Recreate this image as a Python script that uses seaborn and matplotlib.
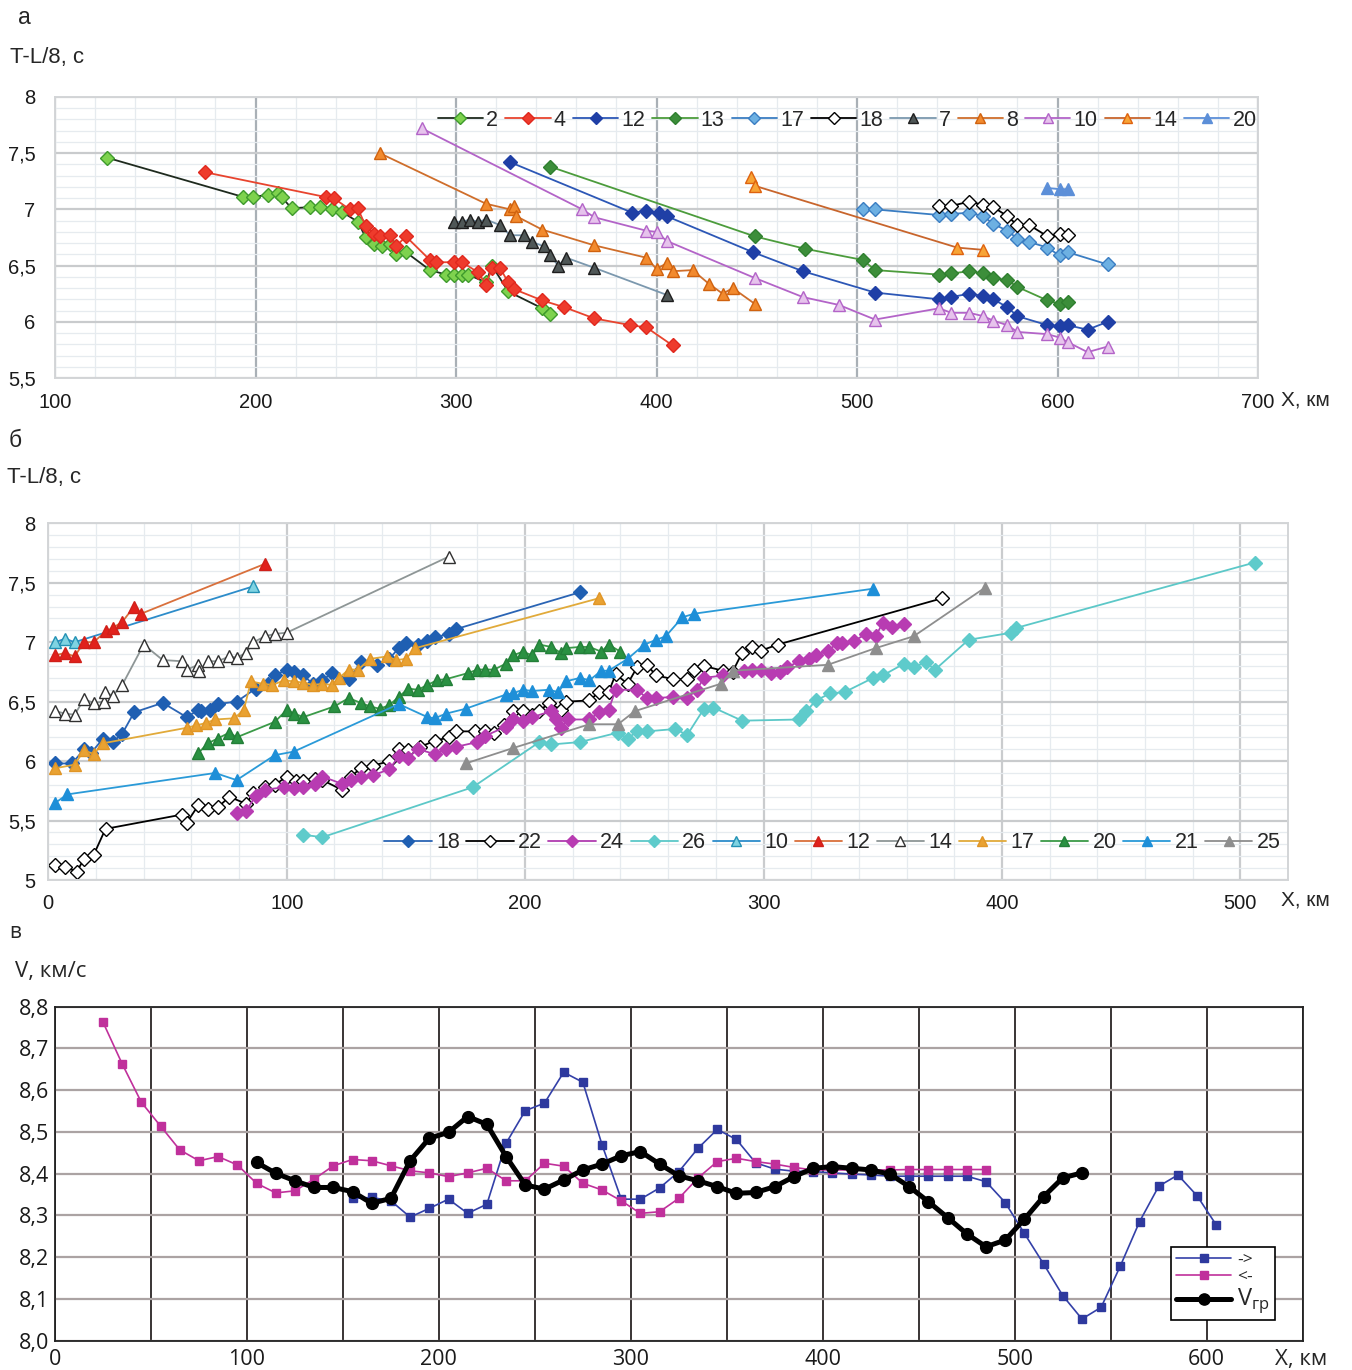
import matplotlib
matplotlib.use("Agg")
import matplotlib.pyplot as plt
import seaborn as sns

# ---------------- panel а: T-L/8 versus X, profiles read from one side ----------------
a2_x = [126, 194, 199, 206, 211, 213, 218, 227, 232, 238, 243, 251, 255, 259, 263, 267, 270, 275,
        287, 295, 299, 303, 306, 315, 318, 326, 343, 347]
a2_y = [7.46, 7.11, 7.11, 7.13, 7.15, 7.11, 7.01, 7.02, 7.02, 7.00, 6.98, 6.89, 6.75, 6.69, 6.67, 6.69,
        6.60, 6.62, 6.46, 6.42, 6.42, 6.42, 6.42, 6.35, 6.50, 6.27, 6.12, 6.07]
a4_x = [175, 235, 239, 247, 251, 255, 259, 262, 267, 270, 275, 287, 290, 299, 303, 311, 315, 318,
        322, 326, 329, 343, 354, 369, 387, 395, 408]
a4_y = [7.33, 7.11, 7.10, 7.00, 7.01, 6.85, 6.78, 6.76, 6.77, 6.67, 6.76, 6.55, 6.53, 6.53, 6.53,
        6.44, 6.33, 6.48, 6.48, 6.35, 6.29, 6.19, 6.13, 6.03, 5.97, 5.95, 5.79]
a12_x = [327, 388, 395, 401, 405, 448, 473, 509, 541, 547, 556, 563, 568, 575, 580, 595, 601, 605, 615, 625]
a12_y = [7.42, 6.97, 6.99, 6.97, 6.94, 6.62, 6.45, 6.26, 6.20, 6.22, 6.25, 6.23, 6.20, 6.13, 6.05,
         5.97, 5.96, 5.97, 5.93, 6.00]
a13_x = [347, 449, 474, 503, 509, 541, 547, 556, 563, 568, 575, 580, 595, 601, 605]
a13_y = [7.38, 6.76, 6.65, 6.55, 6.46, 6.42, 6.43, 6.45, 6.43, 6.39, 6.37, 6.31, 6.19, 6.16, 6.18]
a17_x = [503, 509, 541, 547, 556, 563, 568, 575, 580, 586, 595, 601, 605, 625]
a17_y = [7.00, 7.00, 6.95, 6.96, 6.97, 6.94, 6.87, 6.81, 6.74, 6.71, 6.66, 6.59, 6.62, 6.51]
a18_x = [541, 547, 556, 563, 568, 575, 580, 586, 595, 601, 605]
a18_y = [7.03, 7.03, 7.07, 7.04, 7.02, 6.94, 6.86, 6.86, 6.76, 6.78, 6.77]
a7_x = [299, 303, 307, 311, 315, 322, 327, 334, 338, 344, 347, 351, 355, 369, 405]
a7_y = [6.89, 6.89, 6.91, 6.89, 6.91, 6.86, 6.77, 6.77, 6.71, 6.67, 6.59, 6.50, 6.57, 6.48, 6.24]
a8_x = [262, 315, 327, 329, 330, 343, 369, 395, 400, 405, 408, 418, 426, 433, 438, 449]
a8_y = [7.50, 7.05, 7.00, 7.03, 6.94, 6.82, 6.68, 6.57, 6.47, 6.52, 6.45, 6.46, 6.34, 6.25, 6.30, 6.16]
a10_x = [283, 363, 369, 395, 400, 405, 449, 473, 491, 509, 541, 547, 556, 563, 568, 575, 580, 595,
         601, 605, 615, 625]
a10_y = [7.72, 7.00, 6.93, 6.81, 6.80, 6.72, 6.39, 6.22, 6.15, 6.02, 6.12, 6.08, 6.08, 6.05, 6.01,
         5.97, 5.91, 5.89, 5.86, 5.82, 5.73, 5.78]
a14_x = [447, 449, 550, 563]
a14_y = [7.29, 7.21, 6.66, 6.64]
a20_x = [595, 601, 605]
a20_y = [7.19, 7.18, 7.18]

# ---------------- panel б: T-L/8 versus X, profiles read from the other side ----------------
b18_x = [3, 10, 15, 18, 23, 27, 31, 36, 48, 58, 63, 64, 68, 71, 79, 87, 92, 95, 100, 103, 107, 111,
         115, 119, 126, 131, 138, 143, 147, 150, 155, 159, 162, 168, 171, 223]
b18_y = [5.98, 5.98, 6.10, 6.07, 6.19, 6.16, 6.23, 6.41, 6.49, 6.37, 6.43, 6.42, 6.43, 6.48, 6.50,
         6.61, 6.65, 6.72, 6.77, 6.75, 6.72, 6.65, 6.68, 6.74, 6.69, 6.83, 6.81, 6.86, 6.95, 6.99,
         6.98, 7.01, 7.04, 7.07, 7.11, 7.42]
b22_x = [3, 7, 12, 15, 19, 24, 56, 58, 63, 67, 71, 76, 83, 86, 91, 95, 100, 104, 107, 112, 115, 123,
         127, 131, 136, 143, 147, 151, 156, 162, 168, 171, 179, 183, 187, 191, 195, 199, 203, 206,
         210, 215, 217, 227, 231, 235, 238, 243, 247, 251, 255, 262, 268, 271, 275, 283, 287, 291,
         295, 299, 306, 375]
b22_y = [5.13, 5.11, 5.07, 5.18, 5.21, 5.43, 5.55, 5.48, 5.63, 5.60, 5.61, 5.70, 5.64, 5.73, 5.78,
         5.80, 5.87, 5.83, 5.83, 5.85, 5.84, 5.76, 5.87, 5.94, 5.96, 6.00, 6.10, 6.09, 6.12, 6.17,
         6.20, 6.25, 6.25, 6.25, 6.24, 6.30, 6.42, 6.42, 6.39, 6.42, 6.49, 6.43, 6.50, 6.51, 6.58,
         6.58, 6.73, 6.65, 6.79, 6.81, 6.72, 6.69, 6.69, 6.77, 6.80, 6.76, 6.75, 6.91, 6.96, 6.93,
         6.98, 7.37]
b24_x = [79, 83, 87, 91, 99, 103, 107, 112, 115, 123, 127, 131, 136, 143, 147, 151, 155, 162, 167,
         171, 180, 183, 192, 195, 199, 203, 211, 213, 215, 218, 227, 231, 235, 238, 247, 251, 255,
         262, 268, 272, 275, 283, 292, 295, 299, 303, 307, 310, 315, 319, 322, 327, 331, 333, 338,
         343, 347, 350, 354, 359]
b24_y = [5.56, 5.58, 5.71, 5.76, 5.78, 5.77, 5.78, 5.81, 5.87, 5.81, 5.84, 5.87, 5.88, 5.93, 6.04,
         6.03, 6.10, 6.06, 6.10, 6.12, 6.16, 6.21, 6.29, 6.35, 6.34, 6.37, 6.42, 6.35, 6.28, 6.35,
         6.35, 6.41, 6.43, 6.60, 6.60, 6.53, 6.53, 6.54, 6.53, 6.60, 6.70, 6.72, 6.76, 6.77, 6.77,
         6.74, 6.75, 6.79, 6.84, 6.86, 6.89, 6.93, 6.99, 6.99, 7.01, 7.07, 7.05, 7.16, 7.13, 7.15]
b26_x = [107, 115, 178, 206, 211, 223, 239, 243, 247, 251, 263, 268, 275, 279, 291, 315, 318, 322,
         328, 334, 346, 350, 359, 363, 368, 372, 386, 404, 406, 506]
b26_y = [5.38, 5.36, 5.78, 6.16, 6.14, 6.16, 6.24, 6.19, 6.25, 6.25, 6.27, 6.22, 6.44, 6.45, 6.34,
         6.35, 6.42, 6.51, 6.57, 6.58, 6.70, 6.72, 6.82, 6.79, 6.83, 6.77, 7.02, 7.08, 7.12, 7.67]
b10_x = [3, 7, 11, 86]
b10_y = [7.00, 7.03, 7.00, 7.47]
b12_x = [3, 7, 11, 15, 19, 24, 27, 31, 36, 39, 91]
b12_y = [6.89, 6.91, 6.88, 7.00, 7.00, 7.09, 7.12, 7.17, 7.30, 7.24, 7.66]
b14_x = [3, 7, 11, 15, 19, 23.5, 23.8, 27, 31, 40, 48, 56, 58, 63, 63.4, 67, 71, 76, 79, 83, 86, 91,
         95, 100, 168]
b14_y = [6.42, 6.40, 6.39, 6.52, 6.49, 6.50, 6.58, 6.55, 6.64, 6.98, 6.85, 6.84, 6.77, 6.81, 6.76,
         6.84, 6.84, 6.88, 6.87, 6.91, 7.00, 7.05, 7.07, 7.08, 7.72]
b17_x = [3, 11, 15, 19, 23, 58, 62, 66, 70, 78, 82, 85, 90, 94, 99, 103, 107, 111, 115, 119, 122,
         126, 130, 135, 142, 146, 150, 154, 231]
b17_y = [5.94, 5.97, 6.09, 6.06, 6.15, 6.28, 6.30, 6.32, 6.35, 6.36, 6.43, 6.67, 6.65, 6.64, 6.68,
         6.67, 6.66, 6.64, 6.65, 6.64, 6.70, 6.77, 6.77, 6.86, 6.88, 6.85, 6.86, 6.95, 7.37]
b20_x = [63, 67, 71, 76, 79, 95, 100, 103, 107, 120, 126, 131, 135, 139, 143, 147, 151, 155, 159,
         163, 167, 176, 180, 183, 187, 192, 195, 199, 203, 206, 211, 215, 217, 223, 227, 232, 235, 240]
b20_y = [6.07, 6.15, 6.19, 6.24, 6.20, 6.33, 6.43, 6.40, 6.37, 6.46, 6.53, 6.49, 6.46, 6.44, 6.47,
         6.54, 6.61, 6.60, 6.64, 6.68, 6.69, 6.74, 6.77, 6.77, 6.77, 6.82, 6.89, 6.92, 6.89, 6.98,
         6.96, 6.91, 6.95, 6.96, 6.96, 6.92, 6.98, 6.92]
b21_x = [3, 8, 70, 79, 95, 103, 147, 159, 162, 167, 175, 192, 195, 199, 203, 210, 214, 217, 223,
         227, 232, 235, 243, 250, 255, 259, 266, 271, 346]
b21_y = [5.65, 5.72, 5.90, 5.84, 6.05, 6.08, 6.48, 6.37, 6.36, 6.40, 6.44, 6.56, 6.57, 6.60, 6.59,
         6.60, 6.58, 6.67, 6.70, 6.68, 6.76, 6.76, 6.86, 6.98, 7.02, 7.05, 7.21, 7.24, 7.45]
b25_x = [175, 195, 227, 239, 246, 282, 287, 327, 347, 363, 393]
b25_y = [5.98, 6.11, 6.31, 6.31, 6.42, 6.65, 6.76, 6.81, 6.95, 7.05, 7.46]

# ---------------- panel в: apparent velocities and the boundary velocity ----------------
c_fwd_x = [155, 165, 175, 185, 195, 205, 215, 225, 235, 245, 255, 265, 275, 285, 295, 305, 315, 325,
           335, 345, 355, 365, 375, 385, 395, 405, 415, 425, 435, 445, 455, 465, 475, 485, 495, 505,
           515, 525, 535, 545, 555, 565, 575, 585, 595, 605]
c_fwd_y = [8.341, 8.343, 8.335, 8.296, 8.317, 8.339, 8.305, 8.327, 8.473, 8.551, 8.569, 8.643, 8.619,
           8.469, 8.339, 8.339, 8.366, 8.405, 8.461, 8.506, 8.482, 8.426, 8.411, 8.406, 8.405, 8.402,
           8.399, 8.397, 8.394, 8.394, 8.394, 8.394, 8.394, 8.381, 8.331, 8.257, 8.184, 8.108, 8.052,
           8.080, 8.179, 8.285, 8.370, 8.397, 8.347, 8.277]
c_back_x = [25, 35, 45, 55, 65, 75, 85, 95, 105, 115, 125, 135, 145, 155, 165, 175, 185, 195, 205,
            215, 225, 235, 245, 255, 265, 275, 285, 295, 305, 315, 325, 335, 345, 355, 365, 375, 385,
            395, 405, 415, 425, 435, 445, 455, 465, 475, 485]
c_back_y = [8.763, 8.663, 8.571, 8.514, 8.457, 8.431, 8.441, 8.421, 8.377, 8.354, 8.359, 8.387, 8.419,
            8.434, 8.431, 8.419, 8.407, 8.402, 8.393, 8.402, 8.413, 8.383, 8.383, 8.425, 8.418, 8.377,
            8.361, 8.335, 8.305, 8.309, 8.341, 8.390, 8.429, 8.437, 8.429, 8.423, 8.415, 8.409, 8.409,
            8.409, 8.409, 8.409, 8.410, 8.410, 8.410, 8.410, 8.410]
c_vgr_x = [105, 115, 125, 135, 145, 155, 165, 175, 185, 195, 205, 215, 225, 235, 245, 255, 265, 275,
           285, 295, 305, 315, 325, 335, 345, 355, 365, 375, 385, 395, 405, 415, 425, 435, 445, 455,
           465, 475, 485, 495, 505, 515, 525, 535]
c_vgr_y = [8.427, 8.401, 8.383, 8.367, 8.367, 8.357, 8.329, 8.341, 8.431, 8.485, 8.499, 8.537, 8.518,
           8.441, 8.373, 8.363, 8.385, 8.409, 8.423, 8.443, 8.453, 8.423, 8.395, 8.383, 8.369, 8.353,
           8.355, 8.369, 8.393, 8.413, 8.417, 8.413, 8.409, 8.399, 8.369, 8.333, 8.295, 8.256, 8.225,
           8.241, 8.291, 8.345, 8.390, 8.402]

# tick positions and labels
a_xticks = [100, 200, 300, 400, 500, 600, 700]
a_xlabels = ["100", "200", "300", "400", "500", "600", "700"]
a_yticks = [5.5, 6.0, 6.5, 7.0, 7.5, 8.0]
a_ylabels = ["5,5", "6", "6,5", "7", "7,5", "8"]
b_xticks = [0, 100, 200, 300, 400, 500]
b_xlabels = ["0", "100", "200", "300", "400", "500"]
b_yticks = [5.0, 5.5, 6.0, 6.5, 7.0, 7.5, 8.0]
b_ylabels = ["5", "5,5", "6", "6,5", "7", "7,5", "8"]
c_xticks = [0, 100, 200, 300, 400, 500, 600]
c_xlabels = ["0", "100", "200", "300", "400", "500", "600"]
c_yticks = [8.0, 8.1, 8.2, 8.3, 8.4, 8.5, 8.6, 8.7, 8.8]
c_ylabels = ["8,0", "8,1", "8,2", "8,3", "8,4", "8,5", "8,6", "8,7", "8,8"]

sns.set_theme(style="white")
plt.rcParams["font.family"] = ["Liberation Sans", "DejaVu Sans"]
plt.rcParams["axes.unicode_minus"] = False

W, H = 1352, 1370
fig = plt.figure(figsize=(W / 100, H / 100), dpi=100)


def box(l, r, t, b):
    return [l / W, 1 - b / H, (r - l) / W, (b - t) / H]


def series(ax, x, y, label, marker, mfc, mec, lc, ms=7, lw=1.3, mew=1.0):
    sns.lineplot(x=x, y=y, ax=ax, sort=False, estimator=None, label=label,
                 color=lc, linewidth=lw, marker=marker, markersize=ms,
                 markerfacecolor=mfc, markeredgecolor=mec, markeredgewidth=mew)


def excel_grid(ax, xmin, xmax, ymin, ymax, xminor, major_x_color):
    ax.set_xlim(xmin, xmax)
    ax.set_ylim(ymin, ymax)
    ax.set_xticks([v for v in range(int(xmin), int(xmax) + 1, xminor)], minor=True)
    ax.set_yticks([ymin + 0.1 * k for k in range(int(round((ymax - ymin) / 0.1)) + 1)], minor=True)
    ax.grid(which="minor", color="#E6EBEF", linewidth=0.9)
    ax.grid(which="major", axis="y", color="#C9CBCD", linewidth=1.6)
    ax.grid(which="major", axis="x", color=major_x_color, linewidth=1.6)
    ax.set_axisbelow(True)
    ax.tick_params(which="both", length=0, labelsize=14.5, colors="#1A1A1A")
    for s in ax.spines.values():
        s.set_color("#D3D5D7")
        s.set_linewidth(1.4)
    ax.set_xlabel("")
    ax.set_ylabel("")


# ---------------- panel а ----------------
axA = fig.add_axes(box(55, 1258, 97, 378))
series(axA, a2_x, a2_y, "2", "D", "#7ED24E", "#3E9A2C", "#1E2A1E")
series(axA, a4_x, a4_y, "4", "D", "#EE3B2C", "#E0281E", "#E8442E")
series(axA, a12_x, a12_y, "12", "D", "#1F3FA6", "#1F3FA6", "#2C57B6")
series(axA, a13_x, a13_y, "13", "D", "#3C8E3A", "#2F7F2F", "#4C9C3C")
series(axA, a17_x, a17_y, "17", "D", "#6DB0E2", "#3A7DC2", "#3A7DC2")
series(axA, a18_x, a18_y, "18", "D", "white", "black", "black")
series(axA, a7_x, a7_y, "7", "^", "#4F5757", "#1E1E1E", "#7B98AE", ms=8)
series(axA, a8_x, a8_y, "8", "^", "#F28A2E", "#D0620F", "#CF6E2B", ms=8)
series(axA, a10_x, a10_y, "10", "^", "#E6C3EC", "#B364C8", "#B364C8", ms=8)
series(axA, a14_x, a14_y, "14", "^", "#F7A436", "#DE620F", "#C8652C", ms=8)
series(axA, a20_x, a20_y, "20", "^", "#5C8FD8", "#5C8FD8", "#5C8FD8", ms=8)
excel_grid(axA, 100, 700, 5.5, 8.0, 20, "#A9B0B6")
axA.set_xticks(a_xticks, a_xlabels)
axA.set_yticks(a_yticks, a_ylabels)
axA.tick_params(axis="x", pad=11)
axA.tick_params(axis="y", pad=14)
axA.legend(loc="center right", bbox_to_anchor=(0.999, 0.918), ncol=11, frameon=False,
           fontsize=15.5, handlelength=2.1, handletextpad=0.15, columnspacing=0.33,
           borderpad=0, borderaxespad=0, markerscale=0.9)

# ---------------- panel б ----------------
axB = fig.add_axes(box(48.3, 1288, 523.3, 880))
series(axB, b18_x, b18_y, "18", "D", "#1F5FB2", "#1F5FB2", "#2A64B4")
series(axB, b22_x, b22_y, "22", "D", "white", "black", "black")
series(axB, b24_x, b24_y, "24", "D", "#B83CB2", "#B83CB2", "#B03CB0")
series(axB, b26_x, b26_y, "26", "D", "#5ECBCB", "#5ECBCB", "#5CC8C8")
series(axB, b10_x, b10_y, "10", "^", "#7FD3E2", "#2391B4", "#2C8CCA", ms=8)
series(axB, b12_x, b12_y, "12", "^", "#E1211C", "#D0201A", "#D9703C", ms=8)
series(axB, b14_x, b14_y, "14", "^", "white", "#303030", "#8E9696", ms=8)
series(axB, b17_x, b17_y, "17", "^", "#E9A232", "#E09526", "#E1AA3A", ms=8)
series(axB, b20_x, b20_y, "20", "^", "#2A9142", "#237F38", "#3A9A48", ms=8)
series(axB, b21_x, b21_y, "21", "^", "#1E8FD8", "#1E8FD8", "#2A9AD8", ms=8)
series(axB, b25_x, b25_y, "25", "^", "#8E8E8E", "#8E8E8E", "#8E8E8E", ms=8)
excel_grid(axB, 0, 520, 5.0, 8.0, 20, "#CACCCE")
axB.set_xticks(b_xticks, b_xlabels)
axB.set_yticks(b_yticks, b_ylabels)
axB.tick_params(axis="x", pad=10)
axB.tick_params(axis="y", pad=9)
axB.legend(loc="center right", bbox_to_anchor=(0.994, 0.104), ncol=11, frameon=False,
           fontsize=15.5, handlelength=2.2, handletextpad=0.2, columnspacing=0.3,
           borderpad=0, borderaxespad=0, markerscale=0.9)

# ---------------- panel в ----------------
axC = fig.add_axes(box(55, 1302.7, 1006.7, 1340.7))
series(axC, c_fwd_x, c_fwd_y, "->", "s", "#2E399E", "#2E399E", "#3340A8", ms=5.5, lw=1.2)
series(axC, c_back_x, c_back_y, "<-", "s", "#C0309B", "#C0309B", "#C0309B", ms=5.5, lw=1.2)
series(axC, c_vgr_x, c_vgr_y, "V$_{\\mathregular{гр}}$", "o", "black", "black", "black", ms=8.5, lw=3.6)
axC.set_xlim(0, 650)
axC.set_ylim(8.0, 8.8)
axC.set_xticks(c_xticks, c_xlabels)
axC.set_xticks([50, 150, 250, 350, 450, 550, 650], minor=True)
axC.set_yticks(c_yticks, c_ylabels)
axC.grid(which="both", axis="x", color="#2A2424", linewidth=1.3)
axC.grid(which="major", axis="y", color="#ABA3A3", linewidth=1.6)
axC.set_axisbelow(True)
axC.tick_params(which="both", length=0, labelsize=15.5, colors="#1A1A1A")
axC.tick_params(axis="x", pad=6)
axC.tick_params(axis="y", pad=4)
for lab in axC.get_xticklabels() + axC.get_yticklabels():
    lab.set_fontfamily(["Open Sans", "DejaVu Sans"])
for s in axC.spines.values():
    s.set_color("#222222")
    s.set_linewidth(1.3)
axC.set_xlabel("")
axC.set_ylabel("")
legC = axC.legend(loc="lower right", bbox_to_anchor=(0.978, 0.062), frameon=True, fancybox=False,
                  edgecolor="black", framealpha=1, fontsize=12.5, handlelength=3.2,
                  handletextpad=0.35, borderpad=0.3, labelspacing=0.05, borderaxespad=0,
                  markerscale=0.95)
legC.get_frame().set_linewidth(1.2)
legC.get_texts()[2].set_fontsize(17)
for t in legC.get_texts():
    t.set_fontfamily(["Open Sans", "DejaVu Sans"])

# ---------------- captions ----------------
fig.text(18 / W, 1 - 17 / H, "а", fontsize=16.5, va="center", ha="left")
fig.text(10 / W, 1 - 57 / H, "T-L/8, с", fontsize=16, va="center", ha="left")
fig.text(1281 / W, 1 - 400 / H, "X, км", fontsize=15, va="center", ha="left")
fig.text(9 / W, 1 - 440 / H, "б", fontsize=16.5, va="center", ha="left")
fig.text(7 / W, 1 - 478 / H, "T-L/8, с", fontsize=16, va="center", ha="left")
fig.text(1281 / W, 1 - 900 / H, "X, км", fontsize=15, va="center", ha="left")
fig.text(9 / W, 1 - 933 / H, "в", fontsize=15, va="center", ha="left",
         family=["Open Sans", "DejaVu Sans"])
fig.text(15 / W, 1 - 972 / H, "V, км/с", fontsize=16, va="center", ha="left",
         family=["Open Sans", "DejaVu Sans"])
fig.text(1275 / W, 1 - 1360 / H, "X, км", fontsize=16, va="center", ha="left",
         family=["Open Sans", "DejaVu Sans"])

fig.savefig("out.png", dpi=100, facecolor="white")
